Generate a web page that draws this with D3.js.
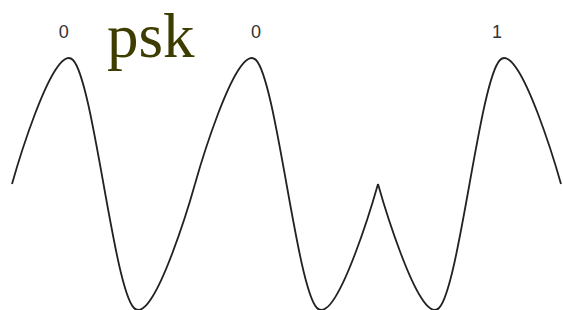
<!DOCTYPE html>
<html>
<head>
<meta charset="utf-8">
<script src="https://cdn.jsdelivr.net/npm/d3@7"></script>
<style>
  html, body { margin: 0; padding: 0; background: #fff; }
  svg { display: block; }
</style>
</head>
<body>
<svg id="chart" width="563" height="310"></svg>
<script>
// bits and signal samples (one row of samples per bit period)
const bits = ["0", "0", "1"];
const bitSamples = [
  [0, 1, -1, 0],
  [0, 1, -1, 0],
  [0, -1, 1, 0]
];
const labelPos = [0.85, 4, 7.95];   // x positions of bit labels (sample units)
const title = "psk";

const W = 563, H = 310;
const svg = d3.select("#chart");

const samplesPerBit = bitSamples[0].length - 1;
const nSteps = bits.length * samplesPerBit;

const x = d3.scaleLinear().domain([0, nSteps]).range([12, 561]);
const y = d3.scaleLinear().domain([-1, 1]).range([308, 60]);

const line = d3.line()
  .x(d => x(d[0]))
  .y(d => y(d[1]))
  .curve(d3.curveCardinal);

bitSamples.forEach((s, i) => {
  const pts = s.map((v, j) => [i * samplesPerBit + j, v]);
  svg.append("path")
    .datum(pts)
    .attr("d", line)
    .attr("fill", "none")
    .attr("stroke", "#222")
    .attr("stroke-width", 1.8);
});

svg.selectAll("text.bit")
  .data(bits)
  .enter().append("text")
  .attr("class", "bit")
  .attr("x", (d, i) => x(labelPos[i]))
  .attr("y", 38)
  .attr("text-anchor", "middle")
  .attr("font-family", "Liberation Sans, Arial, sans-serif")
  .attr("font-size", 18)
  .attr("fill", "#333")
  .text(d => d);

svg.append("text")
  .attr("x", 107)
  .attr("y", 56.5)
  .attr("font-family", "Liberation Serif, Times New Roman, serif")
  .attr("font-size", 63)
  .attr("fill", "#3d3d00")
  .text(title);
</script>
</body>
</html>
